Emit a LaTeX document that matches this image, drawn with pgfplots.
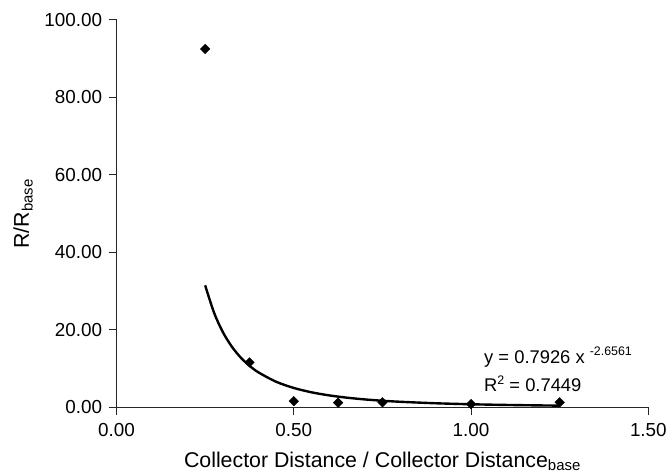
\documentclass[border=0pt]{standalone}
\usepackage{fontspec}
\setmainfont{Liberation Sans}
\usepackage{pgfplots}
\pgfplotsset{compat=1.18}
\begin{document}
\begin{tikzpicture}
\begin{axis}[
  scale only axis, width=534bp, height=389bp,
  xmin=0, xmax=1.5, ymin=0, ymax=100,
  axis x line=bottom, axis y line=left,
  axis line style={-, line width=0.9bp, black!85},
  xtick={0,0.5,1,1.5}, ytick={0,20,40,60,80,100},
  tick align=outside, major tick length=8bp,
  tick style={line width=0.9bp, black!85},
  ticklabel style={font=\fontsize{19}{21}\selectfont,
    /pgf/number format/fixed, /pgf/number format/fixed zerofill,
    /pgf/number format/precision=2, /pgf/number format/assume math mode=true},
  yticklabel style={xshift=-3bp},
  xticklabel style={yshift=-5bp},
  xlabel={Collector Distance / Collector Distance\textsubscript{base}},
  ylabel={R/R\textsubscript{base}},
  label style={font=\fontsize{21.5}{23}\selectfont},
  xlabel style={at={(axis description cs:0.5,-0.1545)}, anchor=base},
  ylabel style={at={(axis description cs:-0.165,0.5)}, anchor=base},
  clip=false,
]
\addplot[black, line width=2.4bp, smooth, no marks] coordinates {
(0.25,31.49) (0.275,24.45) (0.3,19.40) (0.325,15.69) (0.35,12.88) (0.375,10.73)
(0.4,9.04) (0.45,6.61) (0.5,5.00) (0.55,3.878) (0.6,3.078) (0.65,2.489)
(0.7,2.044) (0.75,1.702) (0.8,1.434) (0.9,1.049) (1.0,0.7926) (1.1,0.615)
(1.2,0.488) (1.25,0.438)
};
\addplot[only marks, mark=square*, mark size=3.4bp, mark options={rotate=45}, black] coordinates {
(0.25,92.5) (0.375,11.6) (0.5,1.6) (0.625,1.2) (0.75,1.3) (1.0,0.85) (1.25,1.3)
};
\node[anchor=base west, font=\fontsize{18.5}{20}\selectfont, inner sep=0pt] at (axis cs:1.0365,11.3)
  {y = 0.7926 x \raisebox{8bp}{\fontsize{12.5}{14}\selectfont -2.6561}};
\node[anchor=base west, font=\fontsize{18.5}{20}\selectfont, inner sep=0pt] at (axis cs:1.0365,4.1)
  {R\raisebox{7bp}{\fontsize{12.5}{14}\selectfont 2} = 0.7449};
\end{axis}
\path (current axis.north east) ++(19bp,20bp) coordinate (ne);
\path (current axis.south west) ++(-117bp,-66bp) rectangle (ne);
\end{tikzpicture}
\end{document}
